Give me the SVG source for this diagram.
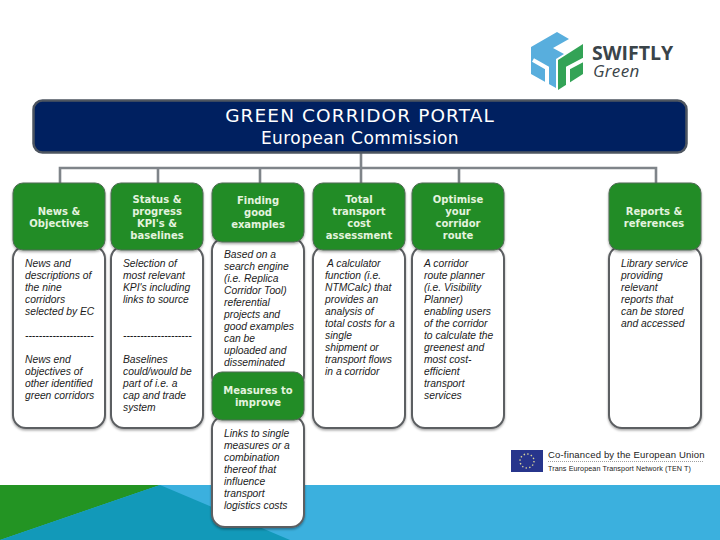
<svg xmlns="http://www.w3.org/2000/svg" width="720" height="540" viewBox="0 0 720 540">
<style>
.h{fill:#e4f3df;font:bold 10px "DejaVu Sans",Verdana,sans-serif;text-anchor:middle}
.b{fill:#1c1c1c;font:italic 10.3px "Liberation Sans",Arial,sans-serif}
.g{fill:#218c28;stroke:#4f6a52;stroke-width:1;filter:url(#s)}
.w{fill:#fff;stroke:#5c5f62;stroke-width:2;filter:url(#s)}
.c{fill:none;stroke:#7f8489;stroke-width:2.6}
.n{fill:none;stroke:#fff;stroke-width:4}
</style>
<defs>
<filter id="s" x="-10%" y="-10%" width="120%" height="120%"><feDropShadow dx="0" dy="1.5" stdDeviation="1.2" flood-color="#000" flood-opacity="0.35"/></filter>
</defs>
<rect width="720" height="540" fill="#fff"/>
<g id="background">
<rect y="485" width="720" height="55" fill="#3bb0de"/>
<polygon points="0,485 160,485 0,540" fill="#239423"/>
<polygon points="160,485 290,540 0,540" fill="#1299b9"/>
</g>
<g id="logo">
<polygon points="557,32 569,39 553,48 564,54 556,59 556,88 531,74 531,47" fill="#58aedd"/>
<polygon points="583,44 583,74 558,90 558,60" fill="#33a356"/>
<path class="n" d="M533 60L547 68V86M585 59L568 68V86"/>
<text x="592" y="60" fill="#3a4449" style="font:bold 19.500px 'Open Sans',sans-serif">SWIFTLY</text>
<text x="593" y="77" fill="#3a4449" style="font:italic 17px 'Open Sans',sans-serif;letter-spacing:.3px">Green</text>
</g>
<g id="connectors">
<path class="c" d="M361 152V183M60 183V168H656V183M158 168V183M260 168V183M459 168V183"/>
</g>
<g id="portal">
<rect x="33.500" y="100.500" width="653" height="52" rx="9" fill="#002060" stroke="#4d5560" stroke-width="2.500"/>
<text x="360" y="122" text-anchor="middle" fill="#fff" style="font:18.500px 'DejaVu Sans',sans-serif;letter-spacing:1.100px">GREEN CORRIDOR PORTAL</text>
<text x="360" y="144" text-anchor="middle" fill="#fff" style="font:17px 'DejaVu Sans',sans-serif;letter-spacing:.42px">European Commission</text>
</g>
<g id="news">
<rect class="w" x="13" y="246" width="92" height="182" rx="13"/>
<rect class="g" x="13" y="183" width="92" height="67" rx="10"/>
<text class="h" x="59" y="215">News &amp;</text><text class="h" x="59" y="227">Objectives</text>
<text class="b"><tspan x="25" y="267">News and</tspan><tspan x="25" y="279">descriptions of</tspan><tspan x="25" y="291">the nine</tspan><tspan x="25" y="303">corridors</tspan><tspan x="25" y="315">selected by EC</tspan><tspan x="25" y="339">--------------------</tspan><tspan x="25" y="363">News end</tspan><tspan x="25" y="375">objectives of</tspan><tspan x="25" y="387">other identified</tspan><tspan x="25" y="399">green corridors</tspan></text>
</g>
<g id="status">
<rect class="w" x="111" y="246" width="92" height="182" rx="13"/>
<rect class="g" x="111" y="183" width="92" height="67" rx="10"/>
<text class="h" x="157" y="203">Status &amp;</text><text class="h" x="157" y="215">progress</text><text class="h" x="157" y="227">KPI's &amp;</text><text class="h" x="157" y="239">baselines</text>
<text class="b"><tspan x="123" y="267">Selection of</tspan><tspan x="123" y="279">most relevant</tspan><tspan x="123" y="291">KPI's including</tspan><tspan x="123" y="303">links to source</tspan><tspan x="123" y="339">--------------------</tspan><tspan x="123" y="363">Baselines</tspan><tspan x="123" y="375">could/would be</tspan><tspan x="123" y="387">part of i.e. a</tspan><tspan x="123" y="399">cap and trade</tspan><tspan x="123" y="411">system</tspan></text>
</g>
<g id="examples">
<rect class="w" x="212" y="238" width="92" height="150" rx="13"/>
<rect class="g" x="212" y="183" width="92" height="59" rx="10"/>
<text class="h" x="258" y="204">Finding</text><text class="h" x="258" y="216">good</text><text class="h" x="258" y="228">examples</text>
<text class="b"><tspan x="224" y="258">Based on a</tspan><tspan x="224" y="270">search engine</tspan><tspan x="224" y="282">(i.e. Replica</tspan><tspan x="224" y="294">Corridor Tool)</tspan><tspan x="224" y="306">referential</tspan><tspan x="224" y="318">projects and</tspan><tspan x="224" y="330">good examples</tspan><tspan x="224" y="342">can be</tspan><tspan x="224" y="354">uploaded and</tspan><tspan x="224" y="366">disseminated</tspan></text>
</g>
<g id="measures">
<rect class="w" x="212" y="416" width="92" height="111" rx="13"/>
<rect class="g" x="212" y="372" width="92" height="48" rx="10"/>
<text class="h" x="258" y="394">Measures to</text><text class="h" x="258" y="406">improve</text>
<text class="b"><tspan x="224" y="437">Links to single</tspan><tspan x="224" y="449">measures or a</tspan><tspan x="224" y="461">combination</tspan><tspan x="224" y="473">thereof that</tspan><tspan x="224" y="485">influence</tspan><tspan x="224" y="497">transport</tspan><tspan x="224" y="509">logistics costs</tspan></text>
</g>
<g id="total">
<rect class="w" x="313" y="246" width="92" height="182" rx="13"/>
<rect class="g" x="313" y="183" width="92" height="67" rx="10"/>
<text class="h" x="359" y="203">Total</text><text class="h" x="359" y="215">transport</text><text class="h" x="359" y="227">cost</text><text class="h" x="359" y="239">assessment</text>
<text class="b"><tspan x="327" y="267">A calculator</tspan><tspan x="325" y="279">function (i.e.</tspan><tspan x="325" y="291">NTMCalc) that</tspan><tspan x="325" y="303">provides an</tspan><tspan x="325" y="315">analysis of</tspan><tspan x="325" y="327">total costs for a</tspan><tspan x="325" y="339">single</tspan><tspan x="325" y="351">shipment or</tspan><tspan x="325" y="363">transport  flows</tspan><tspan x="325" y="375">in a corridor</tspan></text>
</g>
<g id="optimise">
<rect class="w" x="412" y="246" width="92" height="182" rx="13"/>
<rect class="g" x="412" y="183" width="92" height="67" rx="10"/>
<text class="h" x="458" y="203">Optimise</text><text class="h" x="458" y="215">your</text><text class="h" x="458" y="227">corridor</text><text class="h" x="458" y="239">route</text>
<text class="b"><tspan x="424" y="267">A corridor</tspan><tspan x="424" y="279">route planner</tspan><tspan x="424" y="291">(i.e. Visibility</tspan><tspan x="424" y="303">Planner)</tspan><tspan x="424" y="315">enabling users</tspan><tspan x="424" y="327">of the corridor</tspan><tspan x="424" y="339">to calculate the</tspan><tspan x="424" y="351">greenest and</tspan><tspan x="424" y="363">most cost-</tspan><tspan x="424" y="375">efficient</tspan><tspan x="424" y="387">transport</tspan><tspan x="424" y="399">services</tspan></text>
</g>
<g id="reports">
<rect class="w" x="609" y="246" width="92" height="182" rx="13"/>
<rect class="g" x="609" y="183" width="92" height="67" rx="10"/>
<text class="h" x="654" y="215">Reports &amp;</text><text class="h" x="654" y="227">references</text>
<text class="b"><tspan x="621" y="267">Library service</tspan><tspan x="621" y="279">providing</tspan><tspan x="621" y="291">relevant</tspan><tspan x="621" y="303">reports that</tspan><tspan x="621" y="315">can be stored</tspan><tspan x="621" y="327">and accessed</tspan></text>
</g>
<g id="eu">
<rect x="511" y="450" width="32" height="22" fill="#27358c"/>
<circle cx="527" cy="461" r="7" fill="none" stroke="#d9d49a" stroke-width="1.400" stroke-dasharray="1.400 2.270"/>
<text x="548" y="458" fill="#222" style="font:9.500px 'Liberation Sans',sans-serif;letter-spacing:.17px">Co-financed by the European Union</text>
<line x1="548" y1="461.500" x2="703" y2="461.500" stroke="#777" stroke-width=".7" stroke-dasharray="1 1"/>
<text x="548" y="471" fill="#222" style="font:7.200px 'Liberation Sans',sans-serif;letter-spacing:.09px">Trans European Transport Network (TEN T)</text>
</g>
</svg>
